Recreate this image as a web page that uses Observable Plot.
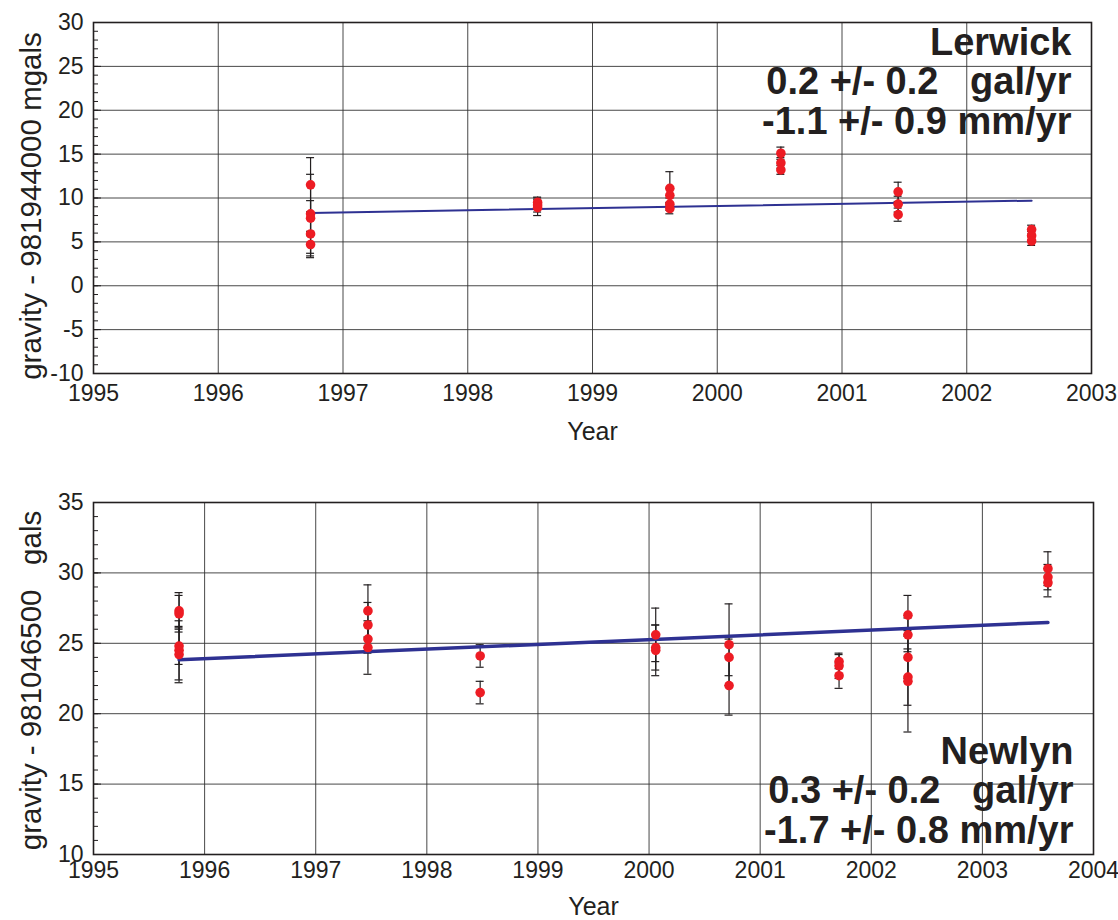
<!DOCTYPE html>
<html><head><meta charset="utf-8">
<script src="https://cdn.jsdelivr.net/npm/d3@7"></script>
<script src="https://cdn.jsdelivr.net/npm/@observablehq/plot@0.6"></script>
<style>
body{margin:0;background:#fff;}
svg text{white-space:pre;}
</style></head><body><div id="chart"></div>
<script>
// ---- Lerwick (top panel) ----
const lerwickYear    = [1996.74,1996.74,1996.74,1996.74,1996.74, 1998.56,1998.56,1998.56, 1999.62,1999.62,1999.62,1999.62, 2000.51,2000.51,2000.51, 2001.45,2001.45,2001.45, 2002.52,2002.52,2002.52];
const lerwickGravity = [11.5,8.2,7.7,5.9,4.7, 9.5,9.2,8.9, 11.1,10.3,9.3,8.8, 15.1,14.0,13.2, 10.7,9.3,8.1, 6.4,5.7,5.1];
const lerwickError   = [3.1,4.5,2.0,2.5,1.5, 0.6,0.8,0.9, 1.9,0.8,0.7,0.6, 0.7,0.6,0.5, 1.1,0.9,0.75, 0.5,0.5,0.5];
const lerwickTrendYear = [1996.74, 2002.52];
const lerwickTrendGravity = [8.3, 9.7];
const lerwickXTicks = [1995,1996,1997,1998,1999,2000,2001,2002,2003];
const lerwickYTicks = [-10,-5,0,5,10,15,20,25,30];
const lerwickNote = "Lerwick\n0.2 +/- 0.2   gal/yr\n-1.1 +/- 0.9 mm/yr";
const lerwickYLabel = "gravity - 981944000 mgals";

// ---- Newlyn (bottom panel) ----
const newlynYear    = [1995.77,1995.77,1995.77,1995.77,1995.77, 1997.47,1997.47,1997.47,1997.47, 1998.48,1998.48, 2000.06,2000.06,2000.06, 2000.72,2000.72,2000.72, 2001.71,2001.71,2001.71, 2002.33,2002.33,2002.33,2002.33,2002.33, 2003.59,2003.59,2003.59];
const newlynGravity = [27.3,27.1,24.8,24.5,24.2, 27.3,26.3,25.3,24.7, 24.1,21.5, 25.6,24.7,24.5, 24.9,24.0,22.0, 23.7,23.4,22.7, 27.0,25.6,24.0,22.6,22.3, 30.3,29.7,29.3];
const newlynError   = [1.3,1.3,1.3,2.1,2.0, 1.85,1.6,1.0,1.9, 0.8,0.8, 1.9,1.6,1.8, 2.9,1.3,2.1, 0.5,0.9,0.9, 1.4,1.2,1.5,2.0,3.6, 1.2,0.9,1.0];
const newlynTrendYear = [1995.77, 2003.59];
const newlynTrendGravity = [23.83, 26.48];
const newlynXTicks = [1995,1996,1997,1998,1999,2000,2001,2002,2003,2004];
const newlynYTicks = [10,15,20,25,30,35];
const newlynNote = "Newlyn\n0.3 +/- 0.2   gal/yr\n-1.7 +/- 0.8 mm/yr";
const newlynYLabel = "gravity - 981046500   gals";
const xLabel = "Year";

const INK = "#231f20";
const FONT = "'Liberation Sans', Arial, Helvetica, sans-serif";

function panel(o) {
  const rows = o.years.map((x, i) => ({x, y: o.values[i], e: o.errors[i]}));
  const trend = o.trendYears.map((x, i) => ({x, y: o.trendValues[i]}));
  const yMinor = d3.range(o.yTicks[0], o.yTicks[o.yTicks.length - 1] + 1, 1);
  const cap = o.capHalf;
  return Plot.plot({
    width: 1118, height: o.height,
    marginLeft: 93, marginRight: o.marginRight, marginTop: o.marginTop, marginBottom: o.marginBottom,
    style: {fontFamily: FONT, fontSize: "23px", color: INK, background: "#fff", overflow: "visible", display: "block"},
    x: {domain: [o.xTicks[0], o.xTicks[o.xTicks.length - 1]]},
    y: {domain: [o.yTicks[0], o.yTicks[o.yTicks.length - 1]]},
    marks: [
      Plot.gridX(o.xTicks, {stroke: "#333", strokeOpacity: 1, strokeWidth: 0.9}),
      Plot.gridY(o.yTicks, {stroke: "#333", strokeOpacity: 1, strokeWidth: 0.9}),
      Plot.axisY(yMinor, {tickSize: -5, tickFormat: () => "", label: null, stroke: INK}),
      Plot.axisY(o.yTicks, {tickSize: -8, tickFormat: () => "", label: null, stroke: INK}),
      Plot.axisY(o.yTicks, {tickSize: 0, tickPadding: 10, tickFormat: d => String(d), fontSize: 23, label: null}),
      Plot.axisX(o.xTicks, {tickSize: 0, tickPadding: o.xTickPadding, tickFormat: d => String(d), fontSize: 23, label: null}),
      Plot.text([o.yLabel], {text: d => d, frameAnchor: "left", rotate: -90, dx: -62, dy: o.yLabelDy,
        textAnchor: "middle", lineAnchor: "middle", fontSize: 29.5, fill: INK}),
      Plot.text([xLabel], {text: d => d, frameAnchor: "bottom", dy: o.xLabelDy,
        textAnchor: "middle", lineAnchor: "middle", fontSize: 25, fill: INK}),
      Plot.frame({stroke: INK, strokeWidth: 1.6}),
      Plot.ruleX(rows, {x: "x", y1: d => d.y - d.e, y2: d => d.y + d.e, stroke: INK, strokeWidth: 1.2}),
      Plot.ruleY(rows, {y: d => d.y + d.e, x1: d => d.x - cap, x2: d => d.x + cap, stroke: INK, strokeWidth: 1.2}),
      Plot.ruleY(rows, {y: d => d.y - d.e, x1: d => d.x - cap, x2: d => d.x + cap, stroke: INK, strokeWidth: 1.2}),
      Plot.line(trend, {x: "x", y: "y", stroke: "#2e3192", strokeWidth: o.lineWidth}),
      Plot.dot(rows, {x: "x", y: "y", r: 4.8, fill: "#ed1c24", stroke: "none"}),
      Plot.text([o.note], {text: d => d, frameAnchor: o.noteAnchor, lineAnchor: o.noteLineAnchor,
        textAnchor: "end", dx: -20, dy: o.noteDy, fontSize: 38, fontWeight: "bold", lineHeight: 1.03, fill: INK})
    ]
  });
}

const topChart = panel({
  years: lerwickYear, values: lerwickGravity, errors: lerwickError,
  trendYears: lerwickTrendYear, trendValues: lerwickTrendGravity,
  xTicks: lerwickXTicks, yTicks: lerwickYTicks, yLabel: lerwickYLabel, note: lerwickNote,
  noteAnchor: "top-right", noteLineAnchor: "top", noteDy: 5,
  height: 452, marginTop: 22, marginBottom: 79, marginRight: 27,
  xTickPadding: 11, xLabelDy: 58, yLabelDy: 8,
  lineWidth: 2, capHalf: 0.032
});
const bottomChart = panel({
  years: newlynYear, values: newlynGravity, errors: newlynError,
  trendYears: newlynTrendYear, trendValues: newlynTrendGravity,
  xTicks: newlynXTicks, yTicks: newlynYTicks, yLabel: newlynYLabel, note: newlynNote,
  noteAnchor: "bottom-right", noteLineAnchor: "bottom", noteDy: -12,
  height: 468, marginTop: 50, marginBottom: 66, marginRight: 25,
  xTickPadding: 7, xLabelDy: 52, yLabelDy: 2,
  lineWidth: 3.5, capHalf: 0.036
});
document.getElementById("chart").append(topChart, bottomChart);
</script></body></html>
